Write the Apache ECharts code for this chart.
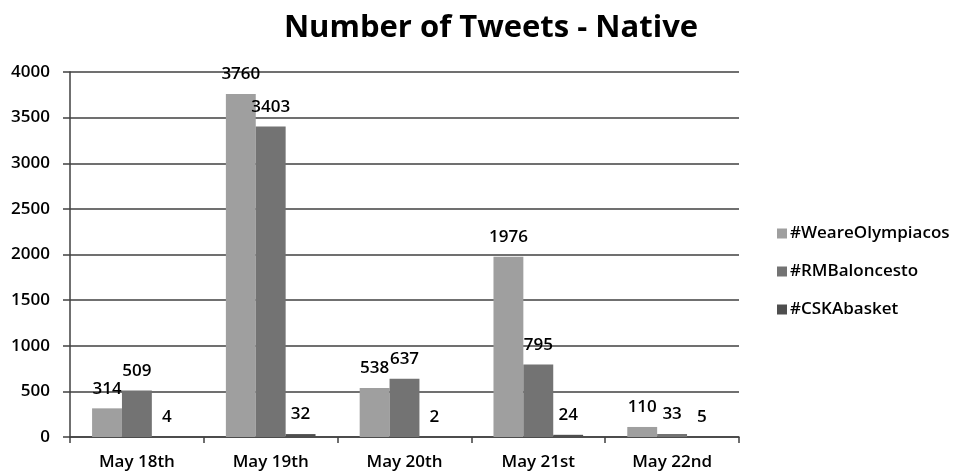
<!DOCTYPE html>
<html><head><meta charset="utf-8">
<script src="https://cdn.jsdelivr.net/npm/echarts@6/dist/echarts.min.js"></script>
<style>html,body{margin:0;padding:0;background:#fff}#c{width:962px;height:476px}</style>
</head><body><div id="c"></div>
<script>
const categories = ['May 18th','May 19th','May 20th','May 21st','May 22nd'];
const seriesNames = ['#WeareOlympiacos','#RMBaloncesto','#CSKAbasket'];
const olympiacos = [314, 3760, 538, 1976, 110];
const rmBaloncesto = [509, 3403, 637, 795, 33];
const cska = [4, 32, 2, 24, 5];
const colors = ['#9f9f9f','#737373','#4e4e4e'];
const font = '"Open Sans", sans-serif';
const values = [olympiacos, rmBaloncesto, cska];
const chart = echarts.init(document.getElementById('c'));
chart.setOption({
  animation:false,
  title:{text:'Number of Tweets - Native',left:486,textAlign:'center',top:8,
    textStyle:{fontFamily:font,fontWeight:'bold',fontSize:31,color:'#000'}},
  legend:{orient:'vertical',left:772,top:220,itemWidth:10,itemHeight:10,itemGap:21,
    icon:'rect',data:seriesNames,
    textStyle:{fontFamily:font,fontWeight:600,fontSize:17,color:'#000',padding:[0,0,0,-2]}},
  grid:{left:70,right:223,top:72,bottom:39},
  xAxis:{type:'category',data:categories,
    axisLine:{lineStyle:{color:'#404040',width:1.5}},
    axisTick:{show:true,length:6,lineStyle:{color:'#404040',width:1.5}},
    axisLabel:{fontFamily:font,fontWeight:600,fontSize:17,color:'#000',margin:17}},
  yAxis:{type:'value',min:0,max:4000,interval:500,
    axisLine:{show:true,lineStyle:{color:'#404040',width:1.5}},
    axisTick:{show:true,length:7,lineStyle:{color:'#404040',width:1.5}},
    splitLine:{lineStyle:{color:'#404040',width:1.5}},
    axisLabel:{fontFamily:font,fontWeight:600,fontSize:17,color:'#000',margin:20,formatter:v=>String(v)}},
  series: seriesNames.map((n,i)=>({
    name:n,type:'bar',data:values[i],barGap:'0%',barCategoryGap:'33%',
    itemStyle:{color:colors[i]},
    label:{show:true,position:'top',distance:11,fontFamily:font,fontWeight:600,fontSize:17,color:'#000'}
  }))
});
</script></body></html>
